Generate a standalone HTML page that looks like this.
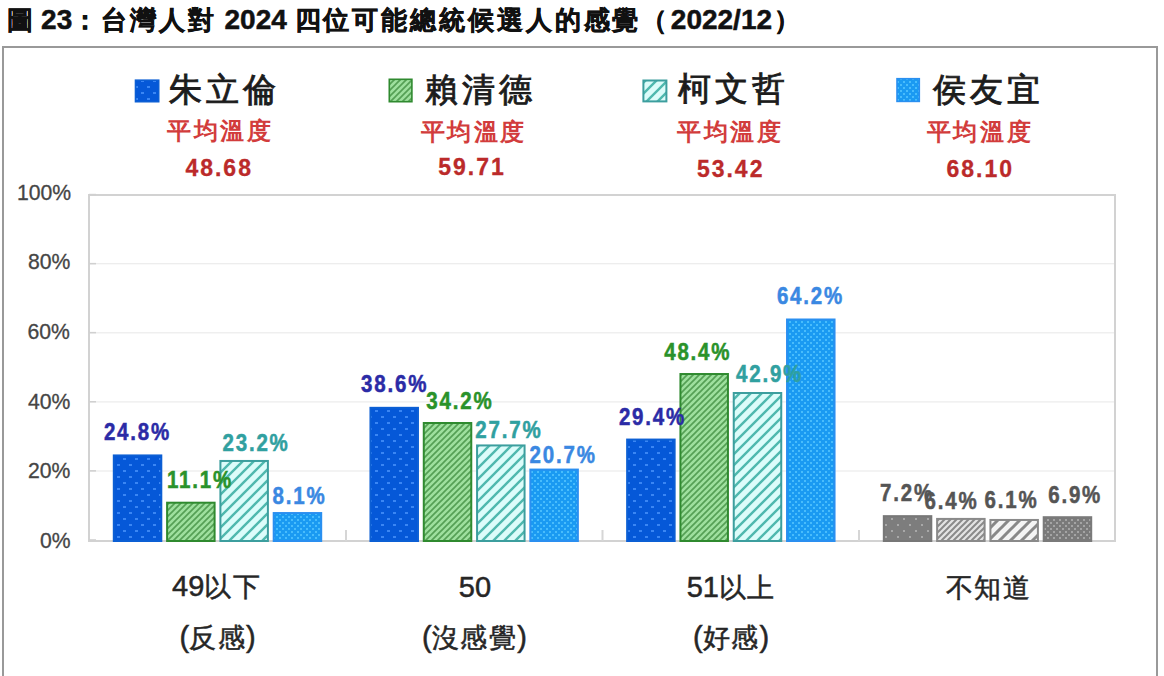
<!DOCTYPE html>
<html><head><meta charset="utf-8">
<style>
html,body{margin:0;padding:0;background:#fff;width:1164px;height:676px;overflow:hidden}
body{font-family:"Liberation Sans",sans-serif;position:relative}
svg{position:absolute;left:0;top:0}

.t{position:absolute;white-space:nowrap;line-height:1;transform-origin:0 0}
.title{font-weight:bold;-webkit-text-stroke:0.5px currentColor}
.lg{-webkit-text-stroke:0.9px currentColor}
.avg{font-weight:bold}
.num{font-weight:bold;-webkit-text-stroke:0.3px currentColor}
.yl{-webkit-text-stroke:0.3px currentColor}
.dl{font-weight:bold;-webkit-text-stroke:0.45px currentColor}
.cat{-webkit-text-stroke:0.5px currentColor}

</style></head><body>
<svg width="1164" height="676" viewBox="0 0 1164 676">
<defs>
<pattern id="pBlue" width="12" height="12" patternUnits="userSpaceOnUse">
<rect width="12" height="12" fill="#0558d8"/>
<rect x="3" y="2" width="3" height="2" fill="#3a86f4"/><rect x="9" y="8" width="3" height="2" fill="#3a86f4"/>
</pattern>
<pattern id="pGreen" width="6" height="6" patternUnits="userSpaceOnUse">
<rect width="6" height="6" fill="#9ee09e"/>
<path d="M-1,1 L1,-1 M0,6 L6,0 M5,7 L7,5" stroke="#55a055" stroke-width="1.7"/>
</pattern>
<pattern id="pTeal" width="11" height="11" patternUnits="userSpaceOnUse">
<rect width="11" height="11" fill="#dcfcfa"/>
<path d="M-2,2 L2,-2 M0,11 L11,0 M9,13 L13,9" stroke="#4fb8ae" stroke-width="2.4"/>
</pattern>
<pattern id="pLBlue" width="6" height="6" patternUnits="userSpaceOnUse">
<rect width="6" height="6" fill="#1a9af2"/>
<rect x="0" y="0" width="2" height="2" fill="#48bcfc"/><rect x="3" y="3" width="2" height="2" fill="#48bcfc"/>
</pattern>
<pattern id="gBlue" width="12" height="12" patternUnits="userSpaceOnUse">
<rect width="12" height="12" fill="#7d7d7d"/>
<rect x="3" y="2" width="2" height="2" fill="#a8a8a8"/><rect x="9" y="8" width="2" height="2" fill="#a8a8a8"/>
</pattern>
<pattern id="gGreen" width="6" height="6" patternUnits="userSpaceOnUse">
<rect width="6" height="6" fill="#e4e4e4"/>
<path d="M-1,1 L1,-1 M0,6 L6,0 M5,7 L7,5" stroke="#8a8a8a" stroke-width="2"/>
</pattern>
<pattern id="gTeal" width="11" height="11" patternUnits="userSpaceOnUse">
<rect width="11" height="11" fill="#f4f4f4"/>
<path d="M-2,2 L2,-2 M0,11 L11,0 M9,13 L13,9" stroke="#888" stroke-width="3"/>
</pattern>
<pattern id="gLBlue" width="6" height="6" patternUnits="userSpaceOnUse">
<rect width="6" height="6" fill="#7a7a7a"/>
<rect x="0" y="0" width="2" height="2" fill="#a4a4a4"/><rect x="3" y="3" width="2" height="2" fill="#a4a4a4"/>
</pattern>
</defs>
<rect x="3" y="47" width="1154" height="700" fill="none" stroke="#999" stroke-width="2"/>
<rect x="89" y="263.1" width="1026" height="1.2" fill="#ebebeb"/>
<rect x="89" y="332.2" width="1026" height="1.2" fill="#ebebeb"/>
<rect x="89" y="401.3" width="1026" height="1.2" fill="#ebebeb"/>
<rect x="89" y="470.4" width="1026" height="1.2" fill="#ebebeb"/>
<rect x="89" y="195" width="1026" height="346" fill="none" stroke="#d2d2d2" stroke-width="2"/>
<rect x="89" y="193.8" width="7" height="1.5" fill="#d0d0d0"/>
<rect x="89" y="262.9" width="7" height="1.5" fill="#d0d0d0"/>
<rect x="89" y="331.9" width="7" height="1.5" fill="#d0d0d0"/>
<rect x="89" y="401.0" width="7" height="1.5" fill="#d0d0d0"/>
<rect x="89" y="470.1" width="7" height="1.5" fill="#d0d0d0"/>
<rect x="89" y="539.2" width="7" height="1.5" fill="#d0d0d0"/>
<rect x="345.0" y="530" width="2" height="11" fill="#d6d6d6"/>
<rect x="601.5" y="530" width="2" height="11" fill="#d6d6d6"/>
<rect x="858.0" y="530" width="2" height="11" fill="#d6d6d6"/>
<rect x="113.80" y="455.44" width="47.50" height="85.56" fill="url(#pBlue)" stroke="#0c5fd4" stroke-width="2"/>
<rect x="167.10" y="502.70" width="47.50" height="38.30" fill="url(#pGreen)" stroke="#2f8a2f" stroke-width="2"/>
<rect x="220.40" y="460.96" width="47.50" height="80.04" fill="url(#pTeal)" stroke="#3c9e9e" stroke-width="2"/>
<rect x="273.70" y="513.05" width="47.50" height="27.95" fill="url(#pLBlue)" stroke="#2a8ff0" stroke-width="2"/>
<rect x="370.47" y="407.83" width="47.50" height="133.17" fill="url(#pBlue)" stroke="#0c5fd4" stroke-width="2"/>
<rect x="423.77" y="423.01" width="47.50" height="117.99" fill="url(#pGreen)" stroke="#2f8a2f" stroke-width="2"/>
<rect x="477.07" y="445.44" width="47.50" height="95.56" fill="url(#pTeal)" stroke="#3c9e9e" stroke-width="2"/>
<rect x="530.37" y="469.58" width="47.50" height="71.42" fill="url(#pLBlue)" stroke="#2a8ff0" stroke-width="2"/>
<rect x="627.14" y="439.57" width="47.50" height="101.43" fill="url(#pBlue)" stroke="#0c5fd4" stroke-width="2"/>
<rect x="680.44" y="374.02" width="47.50" height="166.98" fill="url(#pGreen)" stroke="#2f8a2f" stroke-width="2"/>
<rect x="733.74" y="393.00" width="47.50" height="148.00" fill="url(#pTeal)" stroke="#3c9e9e" stroke-width="2"/>
<rect x="787.04" y="319.51" width="47.50" height="221.49" fill="url(#pLBlue)" stroke="#2a8ff0" stroke-width="2"/>
<rect x="883.81" y="516.16" width="47.50" height="24.84" fill="url(#gBlue)" stroke="#777" stroke-width="2"/>
<rect x="937.11" y="518.92" width="47.50" height="22.08" fill="url(#gGreen)" stroke="#8a8a8a" stroke-width="2"/>
<rect x="990.41" y="519.96" width="47.50" height="21.04" fill="url(#gTeal)" stroke="#8a8a8a" stroke-width="2"/>
<rect x="1043.71" y="517.20" width="47.50" height="23.80" fill="url(#gLBlue)" stroke="#7a7a7a" stroke-width="2"/>
<rect x="135.5" y="80.2" width="23.2" height="21.5" fill="url(#pBlue)" stroke="#0c5fd4" stroke-width="1.6"/>
<rect x="389.3" y="79.3" width="22.6" height="22.4" fill="url(#pGreen)" stroke="#2f8a2f" stroke-width="1.6"/>
<rect x="643.4" y="80.5" width="23" height="20.9" fill="url(#pTeal)" stroke="#3c9e9e" stroke-width="2"/>
<rect x="897" y="78.7" width="22.3" height="22.7" fill="url(#pLBlue)" stroke="#2a8ff0" stroke-width="1.6"/>
</svg>
<div class="t title" style="left:6.90px;top:5.70px;font-size:28.00px;color:#111;"><span style="font-size:0.920em;letter-spacing:2.90px;margin-right:-2.5px">圖</span> 23<span style="font-size:0.920em;letter-spacing:2.90px">：台灣人對</span> 2024 <span style="font-size:0.920em;letter-spacing:2.90px">四位可能總統候選人的感覺<span style="margin-right:0.5px">（</span></span>2022/12<span style="font-size:0.920em;letter-spacing:2.90px"><span style="margin-left:1.5px">）</span></span></div>
<div class="t lg" style="left:169.40px;top:71.50px;font-size:35.50px;color:#1c1c1c;"><span style="font-size:0.930em;letter-spacing:4.00px">朱立倫</span></div>
<div class="t lg" style="left:425.00px;top:71.50px;font-size:35.50px;color:#1c1c1c;"><span style="font-size:0.930em;letter-spacing:4.00px">賴清德</span></div>
<div class="t lg" style="left:678.20px;top:70.70px;font-size:35.50px;color:#1c1c1c;"><span style="font-size:0.930em;letter-spacing:4.00px">柯文哲</span></div>
<div class="t lg" style="left:932.70px;top:71.70px;font-size:35.50px;color:#1c1c1c;"><span style="font-size:0.930em;letter-spacing:4.00px">侯友宜</span></div>
<div class="t avg" style="left:167.00px;top:118.40px;font-size:25.90px;color:#d23c3c;"><span style="font-size:0.920em;letter-spacing:2.60px">平均溫度</span></div>
<div class="t avg" style="left:420.70px;top:118.80px;font-size:25.90px;color:#d23c3c;"><span style="font-size:0.920em;letter-spacing:2.60px">平均溫度</span></div>
<div class="t avg" style="left:677.10px;top:119.00px;font-size:25.90px;color:#d23c3c;"><span style="font-size:0.920em;letter-spacing:2.60px">平均溫度</span></div>
<div class="t avg" style="left:926.80px;top:119.00px;font-size:25.90px;color:#d23c3c;"><span style="font-size:0.920em;letter-spacing:2.60px">平均溫度</span></div>
<div class="t num" style="left:185.40px;top:155.20px;font-size:23.00px;color:#bb2a2a;transform:scaleY(1.0800);letter-spacing:2.00px;">48.68</div>
<div class="t num" style="left:438.20px;top:154.20px;font-size:23.00px;color:#bb2a2a;transform:scaleY(1.0800);letter-spacing:2.00px;">59.71</div>
<div class="t num" style="left:696.90px;top:155.90px;font-size:23.00px;color:#bb2a2a;transform:scaleY(1.0800);letter-spacing:2.00px;">53.42</div>
<div class="t num" style="left:946.50px;top:156.00px;font-size:23.00px;color:#bb2a2a;transform:scaleY(1.0800);letter-spacing:2.00px;">68.10</div>
<div class="t yl" style="left:17.00px;top:181.60px;font-size:21.20px;color:#454545;">100%</div>
<div class="t yl" style="left:28.00px;top:251.40px;font-size:21.20px;color:#454545;">80%</div>
<div class="t yl" style="left:27.50px;top:320.90px;font-size:21.20px;color:#454545;">60%</div>
<div class="t yl" style="left:28.00px;top:390.90px;font-size:21.20px;color:#454545;">40%</div>
<div class="t yl" style="left:28.00px;top:459.90px;font-size:21.20px;color:#454545;">20%</div>
<div class="t yl" style="left:39.90px;top:530.00px;font-size:21.20px;color:#454545;">0%</div>
<div class="t dl" style="left:103.90px;top:419.60px;font-size:20.50px;color:#2b2ba6;transform:scaleY(1.2000);letter-spacing:1.80px;">24.8%</div>
<div class="t dl" style="left:167.00px;top:467.50px;font-size:20.50px;color:#2a922a;transform:scaleY(1.2000);letter-spacing:1.80px;">11.1%</div>
<div class="t dl" style="left:222.50px;top:431.30px;font-size:20.50px;color:#30a0a0;transform:scaleY(1.2000);letter-spacing:1.80px;">23.2%</div>
<div class="t dl" style="left:272.60px;top:484.00px;font-size:20.50px;color:#3a88e2;transform:scaleY(1.2000);letter-spacing:1.80px;">8.1%</div>
<div class="t dl" style="left:361.10px;top:371.70px;font-size:20.50px;color:#2b2ba6;transform:scaleY(1.2000);letter-spacing:1.80px;">38.6%</div>
<div class="t dl" style="left:426.30px;top:388.50px;font-size:20.50px;color:#2a922a;transform:scaleY(1.2000);letter-spacing:1.80px;">34.2%</div>
<div class="t dl" style="left:475.30px;top:417.50px;font-size:20.50px;color:#30a0a0;transform:scaleY(1.2000);letter-spacing:1.80px;">27.7%</div>
<div class="t dl" style="left:529.60px;top:443.30px;font-size:20.50px;color:#3a88e2;transform:scaleY(1.2000);letter-spacing:1.80px;">20.7%</div>
<div class="t dl" style="left:618.90px;top:404.70px;font-size:20.50px;color:#2b2ba6;transform:scaleY(1.2000);letter-spacing:1.80px;">29.4%</div>
<div class="t dl" style="left:664.20px;top:339.50px;font-size:20.50px;color:#2a922a;transform:scaleY(1.2000);letter-spacing:1.80px;">48.4%</div>
<div class="t dl" style="left:736.00px;top:362.00px;font-size:20.50px;color:#30a0a0;transform:scaleY(1.2000);letter-spacing:1.80px;">42.9%</div>
<div class="t dl" style="left:776.90px;top:284.00px;font-size:20.50px;color:#3a88e2;transform:scaleY(1.2000);letter-spacing:1.80px;">64.2%</div>
<div class="t dl" style="left:880.10px;top:480.80px;font-size:20.50px;color:#555555;transform:scaleY(1.2000);letter-spacing:1.80px;">7.2%</div>
<div class="t dl" style="left:924.60px;top:489.40px;font-size:20.50px;color:#555555;transform:scaleY(1.2000);letter-spacing:1.80px;">6.4%</div>
<div class="t dl" style="left:984.50px;top:487.80px;font-size:20.50px;color:#555555;transform:scaleY(1.2000);letter-spacing:1.80px;">6.1%</div>
<div class="t dl" style="left:1048.20px;top:482.50px;font-size:20.50px;color:#555555;transform:scaleY(1.2000);letter-spacing:1.80px;">6.9%</div>
<div class="t cat" style="left:172.10px;top:572.20px;font-size:29.00px;color:#262626;">49<span style="font-size:0.930em;letter-spacing:1.50px">以下</span></div>
<div class="t cat" style="left:179.40px;top:622.80px;font-size:29.00px;color:#262626;">(<span style="font-size:0.930em;letter-spacing:1.50px">反感</span>)</div>
<div class="t cat" style="left:458.80px;top:573.40px;font-size:29.00px;color:#262626;">50</div>
<div class="t cat" style="left:422.10px;top:622.70px;font-size:29.00px;color:#262626;">(<span style="font-size:0.930em;letter-spacing:1.50px">沒感覺</span>)</div>
<div class="t cat" style="left:686.70px;top:572.70px;font-size:29.00px;color:#262626;">51<span style="font-size:0.930em;letter-spacing:1.50px">以上</span></div>
<div class="t cat" style="left:692.90px;top:623.20px;font-size:29.00px;color:#262626;">(<span style="font-size:0.930em;letter-spacing:1.50px">好感</span>)</div>
<div class="t cat" style="left:945.90px;top:572.50px;font-size:29.00px;color:#262626;"><span style="font-size:0.930em;letter-spacing:1.50px">不知道</span></div>
</body></html>
